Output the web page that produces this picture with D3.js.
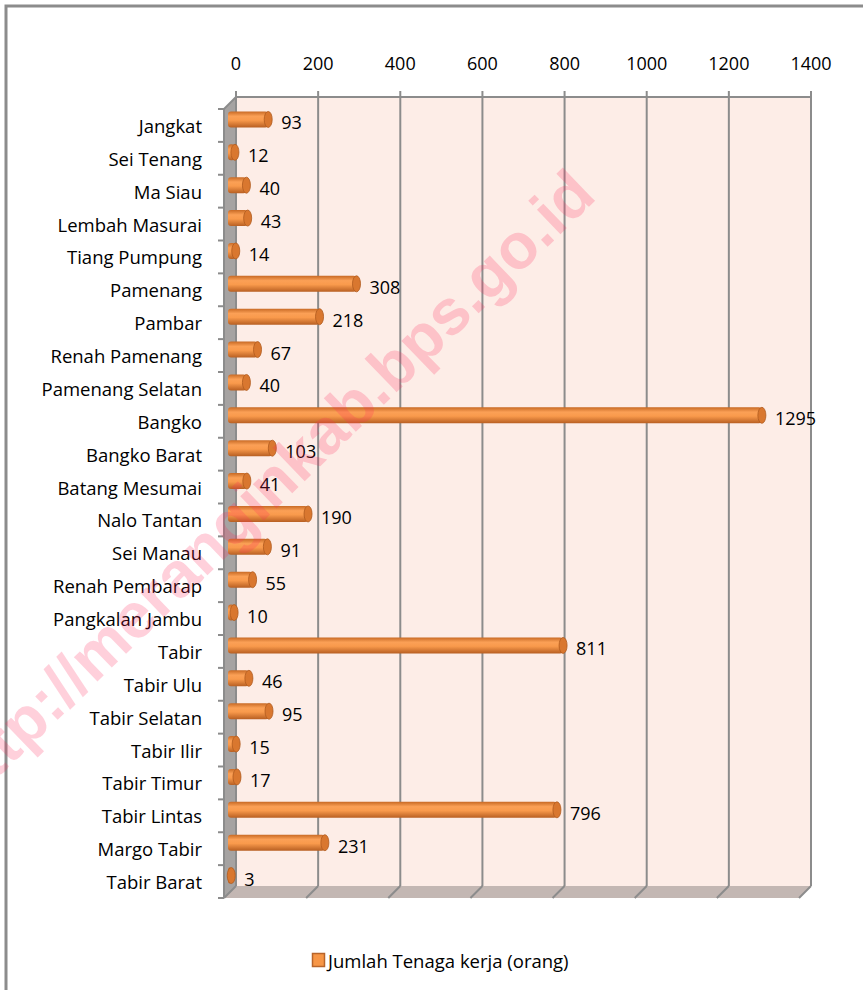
<!DOCTYPE html>
<html lang="id">
<head>
<meta charset="UTF-8" />
<title>Jumlah Tenaga kerja</title>
<script src="https://cdn.jsdelivr.net/npm/d3@7"></script>
<style>
  html, body { margin: 0; padding: 0; background: #fff; }
  svg text { font-family: "Open Sans", Lato, sans-serif; fill: #000; }
</style>
</head>
<body>
<div id="chart"></div>
<script>
// data
const kecamatan = ["Jangkat", "Sei Tenang", "Ma Siau", "Lembah Masurai", "Tiang Pumpung",
  "Pamenang", "Pambar", "Renah Pamenang", "Pamenang Selatan", "Bangko", "Bangko Barat",
  "Batang Mesumai", "Nalo Tantan", "Sei Manau", "Renah Pembarap", "Pangkalan Jambu",
  "Tabir", "Tabir Ulu", "Tabir Selatan", "Tabir Ilir", "Tabir Timur", "Tabir Lintas",
  "Margo Tabir", "Tabir Barat"];
const tenagaKerja = [93, 12, 40, 43, 14, 308, 218, 67, 40, 1295, 103, 41, 190, 91, 55, 10,
  811, 46, 95, 15, 17, 796, 231, 3];
const xTicks = [0, 200, 400, 600, 800, 1000, 1200, 1400];
const seriesName = "Jumlah Tenaga kerja (orang)";

const W = 863, H = 990;
const svg = d3.select("#chart").append("svg").attr("width", W).attr("height", H);

// kedalaman 3D
const depth = 12;
const wallL = 236, wallR = 811, wallT = 97, wallB = 886;

const x = d3.scaleLinear().domain([0, 1400]).range([wallL, wallR]);
// kategori di bidang depan
const y = d3.scaleBand().domain(kecamatan).range([wallT + depth, wallB + depth]);

const defs = svg.append("defs");
const grad = defs.append("linearGradient").attr("id", "cyl")
  .attr("x1", 0).attr("y1", 0).attr("x2", 0).attr("y2", 1);
grad.append("stop").attr("offset", "0%").attr("stop-color", "#c86a25");
grad.append("stop").attr("offset", "30%").attr("stop-color", "#fba056");
grad.append("stop").attr("offset", "55%").attr("stop-color", "#f99a4c");
grad.append("stop").attr("offset", "100%").attr("stop-color", "#b85f22");

// bingkai luar
svg.append("rect").attr("x", 6).attr("y", 6).attr("width", 900).attr("height", 1000)
  .attr("fill", "none").attr("stroke", "#8c8c8c").attr("stroke-width", 3);

// dinding belakang
svg.append("rect").attr("x", wallL).attr("y", wallT)
  .attr("width", wallR - wallL).attr("height", wallB - wallT)
  .attr("fill", "#fdede7");

// dinding samping kiri
svg.append("polygon")
  .attr("points", [[wallL - depth, wallT + depth], [wallL, wallT], [wallL, wallB], [wallL - depth, wallB + depth]].join(" "))
  .attr("fill", "#a6a3a2");

// lantai
svg.append("polygon")
  .attr("points", [[wallL - depth, wallB + depth], [wallL, wallB], [wallR, wallB], [wallR - depth, wallB + depth]].join(" "))
  .attr("fill", "#c3b7b3");

// garis grid
xTicks.forEach(t => {
  const gx = x(t);
  svg.append("line").attr("x1", gx).attr("x2", gx).attr("y1", wallT - 6).attr("y2", wallB)
    .attr("stroke", "#8c8c8c").attr("stroke-width", 2);
  svg.append("line").attr("x1", gx).attr("x2", gx - depth).attr("y1", wallB).attr("y2", wallB + depth)
    .attr("stroke", "#8c8c8c").attr("stroke-width", 2);
});
svg.append("line").attr("x1", wallL).attr("x2", wallR).attr("y1", wallT).attr("y2", wallT)
  .attr("stroke", "#8c8c8c").attr("stroke-width", 2);

// sumbu kiri
svg.append("line").attr("x1", wallL - depth).attr("x2", wallL - depth)
  .attr("y1", wallT + depth).attr("y2", wallB + depth)
  .attr("stroke", "#8c8c8c").attr("stroke-width", 2);
svg.append("line").attr("x1", wallL - depth).attr("x2", wallL)
  .attr("y1", wallT + depth).attr("y2", wallT)
  .attr("stroke", "#8c8c8c").attr("stroke-width", 2);
const bounds = kecamatan.map(k => y(k)).concat([y.range()[1]]);
svg.selectAll(".tick-y").data(bounds).enter().append("line")
  .attr("x1", wallL - depth - 6).attr("x2", wallL - depth)
  .attr("y1", d => d).attr("y2", d => d)
  .attr("stroke", "#8c8c8c").attr("stroke-width", 2);

// label sumbu x (atas)
svg.selectAll(".xlab").data(xTicks).enter().append("text")
  .attr("x", d => x(d)).attr("y", 63)
  .attr("text-anchor", "middle").attr("dominant-baseline", "central")
  .style("font-size", "18px").text(d => d);

// label kategori
svg.selectAll(".ylab").data(kecamatan).enter().append("text")
  .attr("x", 202).attr("y", d => y(d) + y.bandwidth() / 2)
  .attr("text-anchor", "end").attr("dominant-baseline", "central")
  .style("font-size", "18.5px").text(d => d);

// batang silinder (di tengah kedalaman)
const half = depth / 2;
const barH = 16, capR = 4;
const bars = svg.selectAll(".bar").data(kecamatan).enter().append("g");
bars.append("rect")
  .attr("x", x(0) - half - 2)
  .attr("y", d => y(d) + y.bandwidth() / 2 - half - barH / 2)
  .attr("width", (d, i) => Math.max(0, x(tenagaKerja[i]) - x(0) + 2))
  .attr("height", barH)
  .attr("rx", 3)
  .attr("fill", "url(#cyl)");
bars.append("ellipse")
  .attr("cx", (d, i) => x(tenagaKerja[i]) - half)
  .attr("cy", d => y(d) + y.bandwidth() / 2 - half)
  .attr("rx", capR).attr("ry", barH / 2)
  .attr("fill", "#d9772f").attr("stroke", "#b05a1e").attr("stroke-width", 0.8);

// label nilai
bars.append("text")
  .attr("x", (d, i) => x(tenagaKerja[i]) - half + capR + 9)
  .attr("y", d => y(d) + y.bandwidth() / 2 - 3)
  .attr("dominant-baseline", "central")
  .style("font-size", "18px")
  .text((d, i) => tenagaKerja[i]);

// legenda
svg.append("rect").attr("x", 312.5).attr("y", 953.5).attr("width", 12).attr("height", 13)
  .attr("fill", "#f79646").attr("stroke", "#b8642a").attr("stroke-width", 1.5);
svg.append("text").attr("x", 328).attr("y", 960)
  .attr("dominant-baseline", "central").style("font-size", "18.5px").text(seriesName);

// watermark
svg.append("text")
  .attr("transform", "translate(267,487) rotate(-44)")
  .attr("text-anchor", "middle").attr("dominant-baseline", "central")
  .style("font-family", "'Liberation Sans', Arial, sans-serif")
  .style("font-weight", "bold").style("font-size", "64px")
  .style("fill", "rgba(255, 40, 90, 0.22)")
  .text("http://meranginkab.bps.go.id");
</script>
</body>
</html>
